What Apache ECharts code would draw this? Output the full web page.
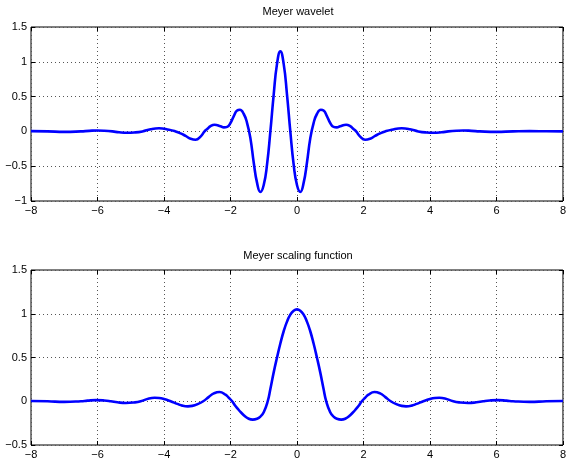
<!DOCTYPE html>
<html>
<head>
<meta charset="utf-8">
<script src="https://cdn.jsdelivr.net/npm/echarts@6.0.0/dist/echarts.min.js"></script>
<style>
  html, body { margin: 0; padding: 0; background: #fff; }
  #main { width: 569px; height: 460px; }
</style>
</head>
<body>
<div id="main"></div>
<script>
// Meyer wavelet (top plot)
const waveX = [-8, -7.5, -7, -6.5, -6.25, -6, -5.8, -5.55, -5.35, -5.1, -4.9, -4.65, -4.4, -4.15, -3.85,
  -3.65, -3.5, -3.35, -3.2, -3.05, -2.9, -2.78, -2.7, -2.6, -2.48, -2.3, -2.2, -2.1, -2.0, -1.9,
  -1.8, -1.72, -1.6, -1.5, -1.4, -1.3, -1.2, -1.1, -1.0, -0.9, -0.8, -0.7, -0.6, -0.5,
  -0.4, -0.3, -0.2, -0.1, 0, 0.1, 0.2, 0.3, 0.4, 0.5, 0.6, 0.72, 0.8, 0.9, 1.0,
  1.1, 1.2, 1.3, 1.48, 1.6, 1.7, 1.78, 1.9, 2.05, 2.2, 2.35, 2.5, 2.65, 2.85, 3.15,
  3.4, 3.65, 3.9, 4.1, 4.35, 4.55, 4.8, 5.0, 5.25, 5.5, 6.0, 6.5, 7.0, 7.5, 8];
const waveY = [0.004, 0, -0.007, 0, 0.008, 0.013, 0.01, 0, -0.013, -0.02, -0.016, 0, 0.032, 0.045, 0.025,
  0, -0.028, -0.065, -0.105, -0.12, -0.075, 0, 0.035, 0.075, 0.095, 0.075, 0.058, 0.065, 0.12, 0.22,
  0.3, 0.31, 0.25, 0.12, -0.1, -0.45, -0.74, -0.87, -0.77, -0.475, 0, 0.53, 0.97, 1.15,
  0.97, 0.53, 0, -0.475, -0.77, -0.87, -0.74, -0.45, -0.1, 0.12, 0.25, 0.31, 0.3, 0.22, 0.12,
  0.065, 0.058, 0.075, 0.095, 0.075, 0.035, 0, -0.075, -0.12, -0.105, -0.065, -0.028, 0, 0.025, 0.045,
  0.032, 0, -0.016, -0.02, -0.013, 0, 0.01, 0.013, 0.008, 0, -0.007, 0, 0.004, 0.002, 0];

// Meyer scaling function (bottom plot)
const scaleX = [-8, -7.5, -7, -6.5, -6.3, -6.05, -5.8, -5.6, -5.4, -5.15, -4.9, -4.7, -4.45, -4.28, -4.15,
  -4.0, -3.8, -3.6, -3.45, -3.28, -3.15, -3.0, -2.82, -2.65, -2.5, -2.33, -2.15, -2.05, -1.95, -1.85,
  -1.75, -1.6, -1.45, -1.33, -1.2, -1.1, -1.0, -0.88, -0.8, -0.7, -0.6, -0.5, -0.4, -0.3, -0.2,
  -0.1, 0, 0.1, 0.2, 0.3, 0.4, 0.5, 0.6, 0.7, 0.8, 0.88, 1.0, 1.1, 1.2, 1.33,
  1.45, 1.6, 1.75, 1.85, 1.95, 2.05, 2.15, 2.33, 2.5, 2.65, 2.82, 3.0, 3.15, 3.28, 3.45,
  3.6, 3.8, 4.0, 4.15, 4.28, 4.45, 4.7, 4.9, 5.15, 5.4, 5.6, 5.8, 6.05, 6.3, 6.5,
  7, 7.5, 8];
const scaleY = [0.003, 0, -0.007, 0, 0.007, 0.013, 0.009, 0, -0.012, -0.02, -0.014, 0, 0.032, 0.04, 0.037,
  0.025, 0, -0.03, -0.05, -0.058, -0.053, -0.035, 0, 0.05, 0.09, 0.106, 0.075, 0.04, 0, -0.055,
  -0.1, -0.16, -0.2, -0.21, -0.2, -0.175, -0.125, 0, 0.14, 0.33, 0.5, 0.66, 0.8, 0.91, 0.99,
  1.035, 1.05, 1.035, 0.99, 0.91, 0.8, 0.66, 0.5, 0.33, 0.14, 0, -0.125, -0.175, -0.2, -0.21,
  -0.2, -0.16, -0.1, -0.055, 0, 0.04, 0.075, 0.106, 0.09, 0.05, 0, -0.035, -0.053, -0.058, -0.05,
  -0.03, 0, 0.025, 0.037, 0.04, 0.032, 0, -0.014, -0.02, -0.012, 0, 0.009, 0.013, 0.007, 0,
  -0.007, 0, 0.003];

const titles = ['Meyer wavelet', 'Meyer scaling function'];
const xRange = [-8, 8, 2];
const yRanges = [[-1, 1.5, 0.5], [-0.5, 1.5, 0.5]];

const font = "'Liberation Sans', Arial, sans-serif";
const fmt = v => String(v).replace('-', '\u2212');

function zip(xs, ys) {
  return xs.map((x, i) => [x, ys[i]]);
}

let grids = [
  { left: 31, right: 4, top: 27, height: 174 },
  { left: 31, right: 4, top: 270, height: 175 }
];

let xAxes = [], yAxes = [];
grids.forEach((g, i) => {
  g.show = true;
  g.borderColor = '#000';
  g.borderWidth = 1;
  g.backgroundColor = '#fff';
  ['bottom', 'top'].forEach(pos => {
    xAxes.push({
      type: 'value', gridIndex: i, position: pos,
      min: xRange[0], max: xRange[1], interval: xRange[2],
      axisLine: { show: false, onZero: false },
      axisTick: { show: true, inside: true, length: 4, lineStyle: { color: '#000' } },
      axisLabel: {
        show: pos === 'bottom', margin: 4, color: '#000', fontSize: 11, fontFamily: font,
        formatter: fmt
      },
      splitLine: pos === 'bottom'
        ? { show: true, lineStyle: { color: '#555', width: 1, type: [1, 3] } }
        : { show: false }
    });
  });
  ['left', 'right'].forEach(pos => {
    yAxes.push({
      type: 'value', gridIndex: i, position: pos,
      min: yRanges[i][0], max: yRanges[i][1], interval: yRanges[i][2],
      axisLine: { show: false, onZero: false },
      axisTick: { show: true, inside: true, length: 4, lineStyle: { color: '#000' } },
      axisLabel: {
        show: pos === 'left', margin: 4, color: '#000', fontSize: 11, fontFamily: font,
        formatter: fmt
      },
      splitLine: pos === 'left'
        ? { show: true, lineStyle: { color: '#555', width: 1, type: [1, 3] } }
        : { show: false }
    });
  });
});

let lineSeries = (data, i) => ({
  type: 'line',
  xAxisIndex: i * 2,
  yAxisIndex: i * 2,
  data: data,
  smooth: 0.5,
  showSymbol: false,
  lineStyle: { color: '#0000ff', width: 2.6 },
  z: 5
});

let option = {
  backgroundColor: '#fff',
  animation: false,
  grid: grids,
  xAxis: xAxes,
  yAxis: yAxes,
  graphic: [
    { type: 'text', x: 298, y: 12, style: { text: titles[0], fontSize: 11, fontFamily: font, fill: '#000', textAlign: 'center', textVerticalAlign: 'middle' } },
    { type: 'text', x: 298, y: 256, style: { text: titles[1], fontSize: 11, fontFamily: font, fill: '#000', textAlign: 'center', textVerticalAlign: 'middle' } }
  ],
  series: [
    lineSeries(zip(waveX, waveY), 0),
    lineSeries(zip(scaleX, scaleY), 1)
  ]
};

let myChart = echarts.init(document.getElementById('main'));
myChart.setOption(option);
</script>
</body>
</html>
